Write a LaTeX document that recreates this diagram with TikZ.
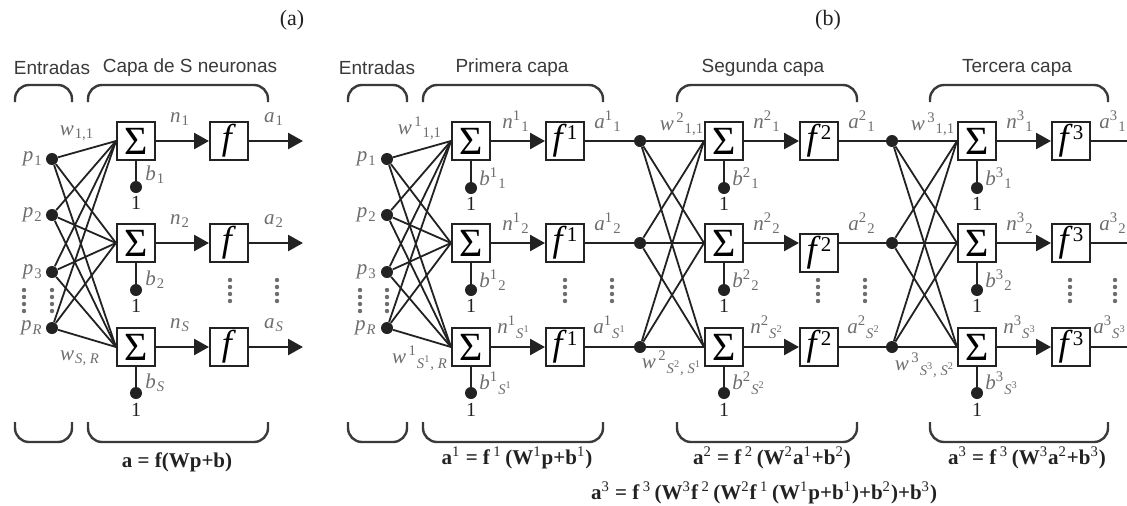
\documentclass[tikz,border=0pt]{standalone}
\usepackage{fontspec}
\setmainfont{Liberation Serif}
\setsansfont{Liberation Sans}
\usetikzlibrary{arrows.meta}

\definecolor{ink}{HTML}{222222}
\definecolor{lblgray}{HTML}{6E6E6E}
\definecolor{headgray}{HTML}{3A3A3A}

\newcommand{\lbl}[3]{\textit{#1}\textsuperscript{#2}\textsubscript{#3}}
\newcommand{\fsym}[1]{\textit{f}\raisebox{0.3em}{\fontsize{10.5}{10.5}\selectfont #1}}
\newcommand{\up}[1]{\textsuperscript{\mdseries #1}}
\newcommand{\vdcol}[2]{\foreach \k in {0,1,2,3} {\fill[lblgray] (#1,#2+7*\k) circle (1.1pt);}}

\tikzset{
  sumbox/.style={draw=ink, line width=1pt, minimum size=19pt, inner sep=0pt, font=\fontsize{20}{20}\selectfont},
  funbox/.style={draw=ink, line width=1pt, minimum size=19pt, inner sep=0pt, font=\fontsize{18}{18}\selectfont},
  dot/.style={circle, fill=ink, inner sep=0pt, minimum size=6pt},
  lab/.style={text=lblgray, inner sep=0pt, font=\fontsize{10.5}{12}\selectfont},
  head/.style={text=headgray, inner sep=0pt, font=\sffamily\fontsize{9.5}{11}\selectfont},
  eqn/.style={text=ink, inner sep=0pt, font=\bfseries\fontsize{10.5}{12}\selectfont},
  one/.style={text=ink, inner sep=0pt, font=\fontsize{10}{10}\selectfont},
  wire/.style={draw=ink, line width=0.9pt},
  sig/.style={draw=ink, line width=1.25pt},
  sigarrow/.style={sig, -{Triangle[length=7.5pt,width=8pt]}},
  brace/.style={draw=headgray, line width=1.2pt, rounded corners=7pt},
}

\begin{document}
\begin{tikzpicture}[x=0.5pt,y=-0.5pt]
\path[fill=white] (0,0) rectangle (1127,505);
\useasboundingbox (0,0) rectangle (1127,505);

% titles
\node[one, font=\fontsize{11}{12}\selectfont] (ta) at (292,20) {(a)};
\node[one, font=\fontsize{11}{12}\selectfont] (tb) at (828,20) {(b)};

% ---------- panel (a) ----------
\node[head] (hin) at (52,68) {Entradas};
\node[head] (hcapa) at (190,68) {Capa de S neuronas};
\path[brace] (15,102) -- (15,85) -- (72,85) -- (72,102);
\path[brace] (88,102) -- (88,85) -- (268,85) -- (268,102);
\path[brace] (15,422) -- (15,442) -- (72,442) -- (72,422);
\path[brace] (88,422) -- (88,442) -- (268,442) -- (268,422);
\node[eqn] (eqa) at (177,462) {a = f(Wp+b)};

\node[dot] (pa1) at (52,159) {};
\node[dot] (pa2) at (52,215) {};
\node[dot] (pa3) at (52,272) {};
\node[dot] (paR) at (52,328) {};
\node[lab, anchor=east] (lpa1) at (43,159) {\lbl{p}{}{1}};
\node[lab, anchor=east] (lpa2) at (43,215) {\lbl{p}{}{2}};
\node[lab, anchor=east] (lpa3) at (43,272) {\lbl{p}{}{3}};
\node[lab, anchor=east] (lpaR) at (43,328) {\lbl{p}{}{\textit{R}}};
\vdcol{24}{290}
\vdcol{52}{290}

\node[sumbox] (sa1) at (136,141) {Σ};
\node[sumbox] (sa2) at (136,243) {Σ};
\node[sumbox] (saS) at (136,347) {Σ};
\node[funbox] (fa1) at (229,141) {\textit{f}};
\node[funbox] (fa2) at (229,243) {\textit{f}};
\node[funbox] (faS) at (229,347) {\textit{f}};
\coordinate (oa1) at (303,141);
\coordinate (oa2) at (303,243);
\coordinate (oaS) at (303,347);
\node[dot] (ba1) at (136,187) {};
\node[dot] (ba2) at (136,290) {};
\node[dot] (baS) at (136,393) {};
\node[one] (ua1) at (136,203) {1};
\node[one] (ua2) at (136,306) {1};
\node[one] (uaS) at (136,410) {1};
\vdcol{230}{280}
\vdcol{277}{280}

\node[lab] (lwa11) at (77,133) {\lbl{w}{}{1,1}};
\node[lab] (lwaSR) at (80,358) {\lbl{w}{}{\textit{S, R}}};
\node[lab, anchor=west] (lba1) at (145,175) {\lbl{b}{}{1}};
\node[lab, anchor=west] (lba2) at (145,280) {\lbl{b}{}{2}};
\node[lab, anchor=west] (lbaS) at (145,383) {\lbl{b}{}{\textit{S}}};
\node[lab] (lna1) at (180,119) {\lbl{n}{}{1}};
\node[lab] (lna2) at (180,221) {\lbl{n}{}{2}};
\node[lab] (lnaS) at (180,325) {\lbl{n}{}{\textit{S}}};
\node[lab] (laa1) at (274,119) {\lbl{a}{}{1}};
\node[lab] (laa2) at (274,221) {\lbl{a}{}{2}};
\node[lab] (laaS) at (274,325) {\lbl{a}{}{\textit{S}}};

\path[wire] (pa1) -- (sa1.west);
\path[wire] (pa1) -- (sa2.west);
\path[wire] (pa1) -- (saS.west);
\path[wire] (pa2) -- (sa1.west);
\path[wire] (pa2) -- (sa2.west);
\path[wire] (pa2) -- (saS.west);
\path[wire] (pa3) -- (sa1.west);
\path[wire] (pa3) -- (sa2.west);
\path[wire] (pa3) -- (saS.west);
\path[wire] (paR) -- (sa1.west);
\path[wire] (paR) -- (sa2.west);
\path[wire] (paR) -- (saS.west);
\path[sigarrow] (sa1) -- (fa1);
\path[sigarrow] (sa2) -- (fa2);
\path[sigarrow] (saS) -- (faS);
\path[sigarrow] (fa1) -- (oa1);
\path[sigarrow] (fa2) -- (oa2);
\path[sigarrow] (faS) -- (oaS);
\path[sig] (sa1) -- (ba1);
\path[sig] (sa2) -- (ba2);
\path[sig] (saS) -- (baS);

% ---------- panel (b) ----------
\node[head] (hinb) at (377,68) {Entradas};
\node[head] (hc1) at (512,68) {Primera capa};
\node[head] (hc2) at (763,68) {Segunda capa};
\node[head] (hc3) at (1017,68) {Tercera capa};
\path[brace] (348,102) -- (348,85) -- (407,85) -- (407,102);
\path[brace] (423,102) -- (423,85) -- (603,85) -- (603,102);
\path[brace] (677,102) -- (677,85) -- (857,85) -- (857,102);
\path[brace] (930,102) -- (930,85) -- (1108,85) -- (1108,102);
\path[brace] (348,422) -- (348,442) -- (407,442) -- (407,422);
\path[brace] (423,422) -- (423,442) -- (603,442) -- (603,422);
\path[brace] (677,422) -- (677,442) -- (857,442) -- (857,422);
\path[brace] (930,422) -- (930,442) -- (1108,442) -- (1108,422);
\node[eqn] (eq1) at (517,458) {a\up{1} = f\,\up{1}\,(W\up{1}p+b\up{1})};
\node[eqn] (eq2) at (772,458) {a\up{2} = f\,\up{2}\,(W\up{2}a\up{1}+b\up{2})};
\node[eqn] (eq3) at (1027,458) {a\up{3} = f\,\up{3}\,(W\up{3}a\up{2}+b\up{3})};
\node[eqn] (eqall) at (764,493) {a\up{3} = f\,\up{3}\,(W\up{3}f\,\up{2}\,(W\up{2}f\,\up{1}\,(W\up{1}p+b\up{1})+b\up{2})+b\up{3})};

\node[dot] (pb1) at (387,159) {};
\node[dot] (pb2) at (387,215) {};
\node[dot] (pb3) at (387,272) {};
\node[dot] (pbR) at (387,328) {};
\node[lab, anchor=east] (lpb1) at (377,159) {\lbl{p}{}{1}};
\node[lab, anchor=east] (lpb2) at (377,215) {\lbl{p}{}{2}};
\node[lab, anchor=east] (lpb3) at (377,272) {\lbl{p}{}{3}};
\node[lab, anchor=east] (lpbR) at (377,328) {\lbl{p}{}{\textit{R}}};
\vdcol{360}{290}
\vdcol{387}{290}

% first layer
\node[sumbox] (s11) at (471,141) {Σ};
\node[sumbox] (s12) at (471,243) {Σ};
\node[sumbox] (s1S) at (471,347) {Σ};
\node[funbox] (f11) at (565,141) {\fsym{1}};
\node[funbox] (f12) at (565,243) {\fsym{1}};
\node[funbox] (f1S) at (565,347) {\fsym{1}};
\node[dot] (d11) at (640,141) {};
\node[dot] (d12) at (640,243) {};
\node[dot] (d1S) at (640,347) {};
\node[dot] (b11) at (471,188) {};
\node[dot] (b12) at (471,290) {};
\node[dot] (b1S) at (471,393) {};
\node[one] (u11) at (471,204) {1};
\node[one] (u12) at (471,306) {1};
\node[one] (u1S) at (471,410) {1};
\vdcol{565}{280}
\vdcol{612}{280}
\node[lab] (lw111) at (420,128) {\lbl{w}{\,1}{1,1}};
\node[lab] (lw1SR) at (420,358) {\lbl{w}{\,1}{\textit{S}\textsuperscript{1}\textit{, R}}};
\node[lab, anchor=west] (lb11) at (479,178) {\lbl{b}{1}{1}};
\node[lab, anchor=west] (lb12) at (479,280) {\lbl{b}{1}{2}};
\node[lab, anchor=west] (lb1S) at (479,383) {\lbl{b}{1}{\textit{S}\textsuperscript{1}}};
\node[lab] (ln11) at (516,121) {\lbl{n}{1}{1}};
\node[lab] (ln12) at (516,223) {\lbl{n}{1}{2}};
\node[lab] (ln1S) at (514,327) {\lbl{n}{1}{\textit{S}\textsuperscript{1}}};
\node[lab] (la11) at (608,121) {\lbl{a}{1}{1}};
\node[lab] (la12) at (608,223) {\lbl{a}{1}{2}};
\node[lab] (la1S) at (610,327) {\lbl{a}{1}{\textit{S}\textsuperscript{1}}};

% second layer
\node[sumbox] (s21) at (724,141) {Σ};
\node[sumbox] (s22) at (724,243) {Σ};
\node[sumbox] (s2S) at (724,347) {Σ};
\node[funbox] (f21) at (819,141) {\fsym{2}};
\node[funbox] (f22) at (819,253) {\fsym{2}};
\node[funbox] (f2S) at (819,347) {\fsym{2}};
\node[dot] (d21) at (892,141) {};
\node[dot] (d22) at (892,243) {};
\node[dot] (d2S) at (892,347) {};
\node[dot] (b21) at (724,188) {};
\node[dot] (b22) at (724,290) {};
\node[dot] (b2S) at (724,393) {};
\node[one] (u21) at (724,204) {1};
\node[one] (u22) at (724,306) {1};
\node[one] (u2S) at (724,410) {1};
\vdcol{818}{280}
\vdcol{865}{280}
\node[lab] (lw211) at (682,124) {\lbl{w}{\,2}{1,1}};
\node[lab] (lw2SS) at (672,363) {\lbl{w}{\,2}{\textit{S}\textsuperscript{2}\textit{, S}\textsuperscript{1}}};
\node[lab, anchor=west] (lb21) at (732,178) {\lbl{b}{2}{1}};
\node[lab, anchor=west] (lb22) at (732,280) {\lbl{b}{2}{2}};
\node[lab, anchor=west] (lb2S) at (732,383) {\lbl{b}{2}{\textit{S}\textsuperscript{2}}};
\node[lab] (ln21) at (767,121) {\lbl{n}{2}{1}};
\node[lab] (ln22) at (767,223) {\lbl{n}{2}{2}};
\node[lab] (ln2S) at (767,327) {\lbl{n}{2}{\textit{S}\textsuperscript{2}}};
\node[lab] (la21) at (862,121) {\lbl{a}{2}{1}};
\node[lab] (la22) at (862,223) {\lbl{a}{2}{2}};
\node[lab] (la2S) at (864,327) {\lbl{a}{2}{\textit{S}\textsuperscript{2}}};

% third layer
\node[sumbox] (s31) at (977,141) {Σ};
\node[sumbox] (s32) at (977,243) {Σ};
\node[sumbox] (s3S) at (977,347) {Σ};
\node[funbox] (f31) at (1071,141) {\fsym{3}};
\node[funbox] (f32) at (1071,243) {\fsym{3}};
\node[funbox] (f3S) at (1071,347) {\fsym{3}};
\coordinate (o31) at (1127,141);
\coordinate (o32) at (1127,243);
\coordinate (o3S) at (1127,347);
\node[dot] (b31) at (977,188) {};
\node[dot] (b32) at (977,290) {};
\node[dot] (b3S) at (977,393) {};
\node[one] (u31) at (977,204) {1};
\node[one] (u32) at (977,306) {1};
\node[one] (u3S) at (977,410) {1};
\vdcol{1070}{280}
\vdcol{1115}{280}
\node[lab] (lw311) at (933,124) {\lbl{w}{\,3}{1,1}};
\node[lab] (lw3SS) at (925,365) {\lbl{w}{\,3}{\textit{S}\textsuperscript{3}\textit{, S}\textsuperscript{2}}};
\node[lab, anchor=west] (lb31) at (985,178) {\lbl{b}{3}{1}};
\node[lab, anchor=west] (lb32) at (985,280) {\lbl{b}{3}{2}};
\node[lab, anchor=west] (lb3S) at (985,383) {\lbl{b}{3}{\textit{S}\textsuperscript{3}}};
\node[lab] (ln31) at (1020,121) {\lbl{n}{3}{1}};
\node[lab] (ln32) at (1020,223) {\lbl{n}{3}{2}};
\node[lab] (ln3S) at (1020,327) {\lbl{n}{3}{\textit{S}\textsuperscript{3}}};
\node[lab] (la31) at (1113,121) {\lbl{a}{3}{1}};
\node[lab] (la32) at (1113,223) {\lbl{a}{3}{2}};
\node[lab] (la3S) at (1110,327) {\lbl{a}{3}{\textit{S}\textsuperscript{3}}};

% connections, first layer
\path[wire] (pb1) -- (s11.west);
\path[wire] (pb1) -- (s12.west);
\path[wire] (pb1) -- (s1S.west);
\path[wire] (pb2) -- (s11.west);
\path[wire] (pb2) -- (s12.west);
\path[wire] (pb2) -- (s1S.west);
\path[wire] (pb3) -- (s11.west);
\path[wire] (pb3) -- (s12.west);
\path[wire] (pb3) -- (s1S.west);
\path[wire] (pbR) -- (s11.west);
\path[wire] (pbR) -- (s12.west);
\path[wire] (pbR) -- (s1S.west);
\path[sigarrow] (s11) -- (f11);
\path[sigarrow] (s12) -- (f12);
\path[sigarrow] (s1S) -- (f1S);
\path[sig] (f11) -- (d11);
\path[sig] (f12) -- (d12);
\path[sig] (f1S) -- (d1S);
\path[sig] (s11) -- (b11);
\path[sig] (s12) -- (b12);
\path[sig] (s1S) -- (b1S);

% connections, second layer
\path[wire] (d11) -- (s21.west);
\path[wire] (d11) -- (s22.west);
\path[wire] (d11) -- (s2S.west);
\path[wire] (d12) -- (s21.west);
\path[wire] (d12) -- (s22.west);
\path[wire] (d12) -- (s2S.west);
\path[wire] (d1S) -- (s21.west);
\path[wire] (d1S) -- (s22.west);
\path[wire] (d1S) -- (s2S.west);
\path[sigarrow] (s21) -- (f21);
\path[sigarrow] (s22) -- (s22 -| f22.west);
\path[sigarrow] (s2S) -- (f2S);
\path[sig] (f21) -- (d21);
\path[sig] (f22.east |- d22) -- (d22);
\path[sig] (f2S) -- (d2S);
\path[sig] (s21) -- (b21);
\path[sig] (s22) -- (b22);
\path[sig] (s2S) -- (b2S);

% connections, third layer
\path[wire] (d21) -- (s31.west);
\path[wire] (d21) -- (s32.west);
\path[wire] (d21) -- (s3S.west);
\path[wire] (d22) -- (s31.west);
\path[wire] (d22) -- (s32.west);
\path[wire] (d22) -- (s3S.west);
\path[wire] (d2S) -- (s31.west);
\path[wire] (d2S) -- (s32.west);
\path[wire] (d2S) -- (s3S.west);
\path[sigarrow] (s31) -- (f31);
\path[sigarrow] (s32) -- (f32);
\path[sigarrow] (s3S) -- (f3S);
\path[sig] (f31) -- (o31);
\path[sig] (f32) -- (o32);
\path[sig] (f3S) -- (o3S);
\path[sig] (s31) -- (b31);
\path[sig] (s32) -- (b32);
\path[sig] (s3S) -- (b3S);
\end{tikzpicture}
\end{document}
